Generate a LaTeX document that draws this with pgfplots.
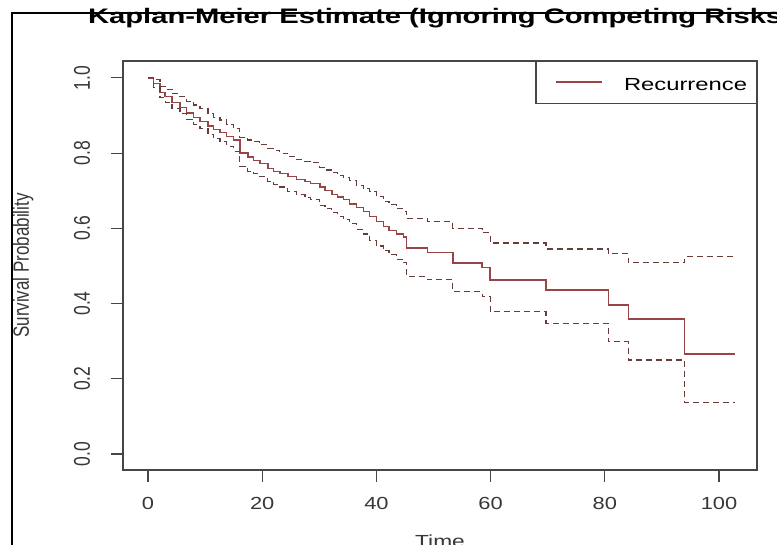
\documentclass[border=0pt]{standalone}
\usepackage{fontspec}
\setmainfont{Liberation Sans}
\usepackage{graphicx}
\usepackage{pgfplots}
\pgfplotsset{compat=1.18}

\definecolor{kmsolid}{RGB}{150,70,70}
\definecolor{kmdash}{RGB}{105,60,60}
\definecolor{axgray}{RGB}{70,70,70}
\definecolor{txtgray}{RGB}{55,55,55}

% R output is stretched sideways, so the text is too
\newcommand{\hs}[1]{\scalebox{1.25}[1]{#1}}
\newcommand{\vs}[1]{\scalebox{1}[1.3]{#1}}

\begin{document}
\begin{tikzpicture}[x=1pt,y=1pt]
\useasboundingbox (0,0) rectangle (777,545);
\clip (0,0) rectangle (777,545);
\fill[white] (0,0) rectangle (777,545);
\begin{axis}[
  at={(123pt,75pt)}, anchor=south west,
  scale only axis, width=634pt, height=409pt,
  xmin=-4.38, xmax=106.65, ymin=-0.0426, ymax=1.045,
  axis line style={axgray, line width=1.1pt},
  tick style={axgray, line width=1.1pt},
  tick align=outside, major tick length=12pt,
  xtick pos=bottom, ytick pos=left,
  xtick={0,20,40,60,80,100},
  xticklabels={\hs{0},\hs{20},\hs{40},\hs{60},\hs{80},\hs{100}},
  ytick={0,0.2,0.4,0.6,0.8,1.0},
  yticklabels={\vs{0.0},\vs{0.2},\vs{0.4},\vs{0.6},\vs{0.8},\vs{1.0}},
  ticklabel style={font=\fontsize{17.5}{20}\selectfont, text=txtgray, inner sep=0pt},
  xticklabel style={anchor=base, yshift=-28pt},
  yticklabel style={xshift=-21pt, rotate=90, anchor=base},
  title={\scalebox{1.39}[1]{\bfseries\fontsize{21}{24}\selectfont Kaplan-Meier Estimate (Ignoring Competing Risks)}},
  title style={at={(0.5,1.0758)}, anchor=base, inner sep=0pt},
  xlabel={\scalebox{1.3}[1]{\fontsize{17.5}{20}\selectfont Time}},
  every axis x label/.style={at={(0.5,-0.1895)}, anchor=base, inner sep=0pt, text=txtgray},
  ylabel={\scalebox{1}[1.3]{\fontsize{17}{20}\selectfont Survival Probability}},
  every axis y label/.style={at={(-0.1483,0.5)}, rotate=90, anchor=base, inner sep=0pt, text=txtgray},
  legend style={at={(1,1)}, anchor=north east, draw=axgray, line width=1.1pt,
    fill=white, inner sep=0pt, outer sep=0pt, nodes={inner sep=0pt, outer sep=0pt}},
  % whole legend entry (sample line and name) drawn in one fixed box
  legend image code/.code={
    \path[draw=none, fill=none] (0pt,0pt) rectangle (220pt,42pt);
    \draw[#1] (20pt,21pt) -- (66pt,21pt);
    \pgftext[base,left,at={\pgfpoint{88pt}{12pt}}]{\color{black}\fontsize{17.5}{20}\selectfont\scalebox{1.36}[1]{Recurrence}};
  },
]
% Kaplan-Meier estimate
\addplot[const plot, kmsolid, line width=1.3pt] coordinates {
 (0,1.000) (1.0,0.985) (2.1,0.962) (3.0,0.950) (4.2,0.935) (5.6,0.922)
 (6.8,0.907) (8.0,0.895) (9.1,0.885) (10.5,0.872) (11.5,0.862) (12.6,0.855)
 (13.8,0.845) (15.0,0.835) (16.1,0.800) (17.5,0.790) (18.5,0.780) (19.6,0.772)
 (21.0,0.760) (22.0,0.752) (23.1,0.745) (24.5,0.737) (26.0,0.730) (27.5,0.725)
 (28.4,0.720) (30.1,0.710) (31.0,0.700) (32.2,0.690) (33.2,0.683) (34.2,0.676)
 (35.3,0.665) (36.5,0.655) (37.7,0.644) (38.8,0.632) (40.0,0.618) (41.2,0.604)
 (42.2,0.595) (43.5,0.585) (44.7,0.577) (45.3,0.548) (48.9,0.535) (53.4,0.508)
 (58.5,0.495) (59.9,0.463) (69.7,0.436) (80.6,0.396) (84.1,0.359) (94.0,0.266)
 (102.8,0.266)
};
\addlegendentry{}
% upper confidence limit
\addplot[const plot, kmdash, line width=1.1pt, dash pattern=on 6pt off 4pt, forget plot] coordinates {
 (0,1.000) (1.0,0.995) (2.1,0.978) (3.0,0.970) (4.2,0.958) (5.6,0.950)
 (6.8,0.938) (8.0,0.928) (9.1,0.918) (10.5,0.905) (11.5,0.895) (12.6,0.888)
 (13.8,0.875) (15.0,0.865) (16.1,0.842) (17.5,0.835) (18.5,0.830) (19.6,0.822)
 (21.0,0.813) (22.0,0.808) (23.1,0.800) (24.5,0.790) (26.0,0.783) (27.5,0.778)
 (28.4,0.774) (30.1,0.762) (31.0,0.755) (32.2,0.748) (33.2,0.740) (34.2,0.735)
 (35.3,0.727) (36.5,0.715) (37.7,0.705) (38.8,0.697) (40.0,0.685) (41.2,0.672)
 (42.2,0.663) (43.5,0.652) (44.7,0.645) (45.3,0.625) (48.9,0.617) (53.4,0.600)
 (58.5,0.588) (59.9,0.561) (69.7,0.545) (80.6,0.532) (84.1,0.508) (94.0,0.524)
 (102.8,0.524)
};
% lower confidence limit
\addplot[const plot, kmdash, line width=1.1pt, dash pattern=on 6pt off 4pt, forget plot] coordinates {
 (0,1.000) (1.0,0.975) (2.1,0.948) (3.0,0.935) (4.2,0.918) (5.6,0.905)
 (6.8,0.890) (8.0,0.876) (9.1,0.865) (10.5,0.850) (11.5,0.838) (12.6,0.830)
 (13.8,0.818) (15.0,0.805) (16.1,0.765) (17.5,0.752) (18.5,0.745) (19.6,0.737)
 (21.0,0.725) (22.0,0.717) (23.1,0.710) (24.5,0.698) (26.0,0.690) (27.5,0.682)
 (28.4,0.676) (30.1,0.660) (31.0,0.652) (32.2,0.642) (33.2,0.632) (34.2,0.624)
 (35.3,0.612) (36.5,0.598) (37.7,0.585) (38.8,0.567) (40.0,0.553) (41.2,0.540)
 (42.2,0.530) (43.5,0.518) (44.7,0.508) (45.3,0.471) (48.9,0.463) (53.4,0.431)
 (58.5,0.418) (59.9,0.378) (69.7,0.348) (80.6,0.298) (84.1,0.250) (94.0,0.136)
 (102.8,0.136)
};
\end{axis}
% frame of the screenshot
\draw[black, line width=1.5pt] (12,0) -- (12,532) -- (777,532);
\end{tikzpicture}
\end{document}
